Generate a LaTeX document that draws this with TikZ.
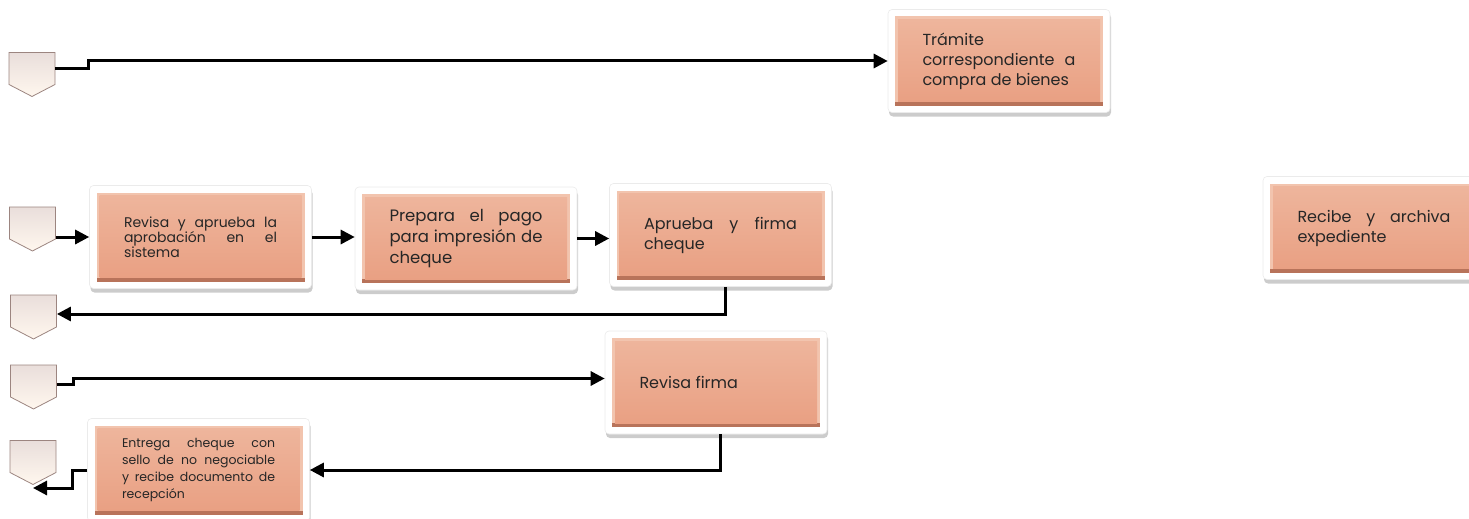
\documentclass[tikz,border=0pt]{standalone}
\usepackage{fontspec}
\setmainfont{Poppins}
\usetikzlibrary{arrows.meta,shadows,shapes.symbols}
\definecolor{salmonarriba}{HTML}{EEB59C}
\definecolor{salmonabajo}{HTML}{E9A083}
\definecolor{biselclaro}{HTML}{F2C4AE}
\definecolor{bisel}{HTML}{B8735A}
\definecolor{texto}{HTML}{262626}
\definecolor{iconoborde}{HTML}{9C8580}
\definecolor{iconoarriba}{HTML}{E9DEDB}
\definecolor{iconoabajo}{HTML}{FFF7EE}
\hyphenpenalty=10000
\exhyphenpenalty=10000
\begin{document}
\begin{tikzpicture}[x=1pt,y=-1pt,
	paso/.style={rectangle,rounded corners=4pt,fill=white,draw=black!8,line width=.6pt,
		minimum width=222pt,minimum height=103pt,inner sep=0pt,
		text width=153pt,align=justify,text=texto,
		drop shadow={shadow xshift=1pt,shadow yshift=-4pt,opacity=.4},
		path picture={
			\coordinate (pa) at ([shift={(7pt,-7pt)}]path picture bounding box.north west);
			\coordinate (pb) at ([shift={(-7pt,7pt)}]path picture bounding box.south east);
			\fill[sharp corners,bisel] (pa) rectangle (pb);
			\fill[sharp corners,biselclaro] (pa) rectangle ([yshift=4pt]pb);
			\shade[sharp corners,top color=salmonarriba,bottom color=salmonabajo]
				([shift={(3pt,-3pt)}]pa) rectangle ([shift={(-3pt,4pt)}]pb);
		}},
	conector/.style={signal,signal to=south,signal pointer angle=125,
		draw=iconoborde,line width=.8pt,top color=iconoarriba,bottom color=iconoabajo,
		minimum width=46pt,minimum height=32pt,inner sep=0pt},
	flecha/.style={line width=3pt,-{Triangle[length=14pt,width=14pt]}}]
\useasboundingbox (0,0) rectangle (1469,519);

% pasos
\node[paso,font=\fontsize{16}{20}\selectfont] (tramite) at (999,61)
	{Trámite\newline correspondiente a\linebreak compra de bienes};
\node[paso,font=\fontsize{14}{15}\selectfont] (revisa) at (200.5,237)
	{Revisa y aprueba la\linebreak aprobación en el\linebreak sistema};
\node[paso,font=\fontsize{16.5}{21}\selectfont] (prepara) at (466,238.5)
	{Prepara el pago\linebreak para impresión de\linebreak cheque};
\node[paso,font=\fontsize{16}{20}\selectfont] (aprueba) at (720.5,235)
	{Aprueba y firma\linebreak cheque};
\node[paso,font=\fontsize{16}{20}\selectfont] (recibe) at (1374,228)
	{Recibe y archiva\linebreak expediente};
\node[paso,font=\fontsize{16}{20}\selectfont] (firma) at (716,382.5)
	{Revisa firma};
\node[paso,font=\fontsize{12.5}{17}\selectfont] (entrega) at (198.5,470)
	{Entrega cheque con\linebreak sello de no negociable\linebreak y recibe documento de\linebreak recepción};

% conectores de pagina
\node[conector] (o1) at (32,68.5) {};
\node[conector] (o2) at (32.5,223) {};
\node[conector] (o3) at (33.5,311) {};
\node[conector] (o4) at (33.5,381) {};
\node[conector] (o5) at (33,456.5) {};
\coordinate (salida) at (33,488);

% flechas
\draw[flecha] (o1.east) -- ++(33,0) |- (tramite.west);
\draw[flecha] (o2.east |- revisa.west) -- (revisa.west);
\draw[flecha] (revisa.east) -- (revisa.east -| prepara.west);
\draw[flecha] (prepara.east) -- (prepara.east -| aprueba.west);
\draw[flecha] ([xshift=5pt]aprueba.south) |- ([yshift=-3pt]o3.east);
\draw[flecha] ([yshift=-3pt]o4.east) -- ++(17,0) |- ([yshift=4pt]firma.west);
\draw[flecha] ([xshift=4pt]firma.south) |- (entrega.east);
\draw[flecha] (entrega.west) -- ++(-15,0) |- (salida);
\end{tikzpicture}
\end{document}
